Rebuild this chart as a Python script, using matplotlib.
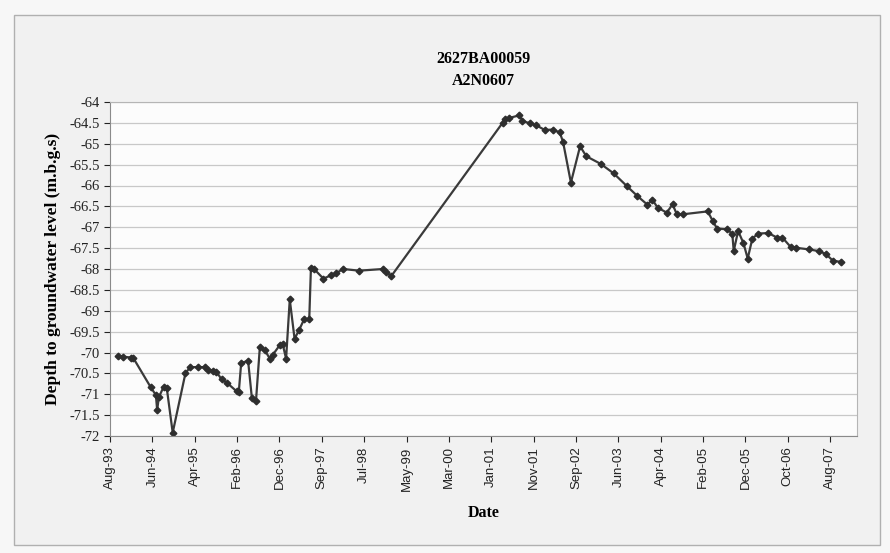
import matplotlib
matplotlib.use("Agg")
import matplotlib.pyplot as plt
import matplotlib.dates as mdates
import numpy as np
import pandas as pd
from matplotlib.patches import Rectangle

# sample dates and depth readings
dates = [
    "1993-10-16", "1993-11-21", "1994-01-17", "1994-01-31", "1994-06-05",
    "1994-07-12", "1994-07-21", "1994-08-02", "1994-09-05", "1994-09-27",
    "1994-11-08", "1995-02-06", "1995-03-12", "1995-05-08", "1995-06-26",
    "1995-07-18", "1995-08-23", "1995-09-13", "1995-10-20", "1995-11-25",
    "1996-02-04", "1996-02-19", "1996-03-07", "1996-04-25", "1996-05-22",
    "1996-06-20", "1996-07-17", "1996-08-22", "1996-09-28", "1996-10-18",
    "1996-12-06", "1996-12-26", "1997-01-19", "1997-02-14", "1997-03-20",
    "1997-04-23", "1997-05-27", "1997-07-02", "1997-07-14", "1997-08-05",
    "1997-10-10", "1997-12-05", "1998-01-09", "1998-02-27", "1998-06-20",
    "1998-12-07", "1998-12-29", "1999-02-03",
    "2001-04-01", "2001-04-21", "2001-05-20", "2001-07-29", "2001-08-20",
    "2001-10-09", "2001-11-21", "2002-01-25", "2002-03-22", "2002-05-11",
    "2002-06-03", "2002-07-29", "2002-10-02", "2002-11-15", "2003-02-24",
    "2003-05-28", "2003-08-31", "2003-11-11", "2004-01-22", "2004-02-26",
    "2004-04-03", "2004-06-07", "2004-07-18", "2004-08-17", "2004-09-28",
    "2005-03-24", "2005-04-30", "2005-05-29", "2005-08-09", "2005-09-14",
    "2005-09-24", "2005-10-25", "2005-12-02", "2006-01-01", "2006-02-03",
    "2006-03-17", "2006-05-27", "2006-07-30", "2006-09-04", "2006-11-01",
    "2006-12-06", "2007-03-09", "2007-05-18", "2007-07-08", "2007-08-27",
    "2007-10-23",
]
depth = [
    -70.08, -70.10, -70.12, -70.12, -70.83,
    -71.02, -71.38, -71.07, -70.82, -70.85,
    -71.92, -70.50, -70.35, -70.35, -70.35,
    -70.42, -70.44, -70.46, -70.64, -70.72,
    -70.93, -70.95, -70.25, -70.20, -71.10,
    -71.15, -69.88, -69.95, -70.16, -70.05,
    -69.82, -69.80, -70.15, -68.73, -69.67,
    -69.45, -69.20, -69.20, -67.97, -68.00,
    -68.23, -68.15, -68.10, -68.00, -68.04,
    -68.00, -68.07, -68.17,
    -64.50, -64.40, -64.38, -64.32, -64.45,
    -64.51, -64.55, -64.67, -64.66, -64.73,
    -64.95, -65.93, -65.06, -65.30, -65.48,
    -65.71, -66.02, -66.25, -66.46, -66.34,
    -66.53, -66.65, -66.45, -66.69, -66.69,
    -66.62, -66.86, -67.03, -67.05, -67.16,
    -67.57, -67.09, -67.38, -67.75, -67.27,
    -67.15, -67.14, -67.25, -67.25, -67.47,
    -67.49, -67.53, -67.57, -67.64, -67.80,
    -67.83,
]
title = "2627BA00059\nA2N0607"
ylabel = "Depth to groundwater level (m.b.g.s)"
xlabel = "Date"

x = pd.to_datetime(dates)
axis_start = pd.Timestamp("1993-08-21")
tick_dates = [axis_start + pd.Timedelta(days=300 * k) for k in range(18)]
y_ticks = np.arange(-72, -63.9, 0.5)

plt.rcParams['font.family'] = ['Liberation Serif', 'DejaVu Serif']

fig = plt.figure(figsize=(8.9, 5.53), dpi=100, facecolor='#f7f7f7')
# chart area frame
fig.patches.append(Rectangle((14 / 890, 1 - 545 / 553), 866 / 890, 530 / 553,
                             transform=fig.transFigure, facecolor='#f1f1f1',
                             edgecolor='#b0b0b0', lw=1.0, zorder=-1))

ax = fig.add_axes([110 / 890, 1 - 436 / 553, 747 / 890, 334 / 553])
ax.set_facecolor('#fcfcfc')
ax.plot(x, depth, color='#3a3a3a', lw=1.6, marker='D', ms=3.4,
        mec='#2e2e2e', mfc='#2e2e2e')

ax.set_xlim(axis_start, axis_start + pd.Timedelta(days=5290))
ax.set_ylim(-72, -64)
ax.set_yticks(y_ticks)
ax.set_yticklabels(["%g" % v for v in y_ticks], fontsize=10.5)
ax.set_xticks(tick_dates)
ax.xaxis.set_major_formatter(mdates.DateFormatter('%b-%y'))
plt.setp(ax.get_xticklabels(), rotation=90, fontsize=9.5,
         family=['Liberation Sans', 'DejaVu Sans'])
ax.grid(axis='y', color='#c8c8c8', lw=0.9)
ax.set_axisbelow(True)
for side in ['left', 'bottom']:
    ax.spines[side].set_color('#8a8a8a')
for side in ['top', 'right']:
    ax.spines[side].set_color('#b5b5b5')
ax.tick_params(colors='#222222', length=4, width=0.8)

ax.set_title(title, fontsize=11.5, fontweight='bold', pad=12, linespacing=1.5)
ax.set_ylabel(ylabel, fontsize=12.5, fontweight='bold', labelpad=6)
ax.set_xlabel(xlabel, fontsize=11.5, fontweight='bold', labelpad=10)

fig.savefig("out.png", dpi=100, facecolor=fig.get_facecolor())
